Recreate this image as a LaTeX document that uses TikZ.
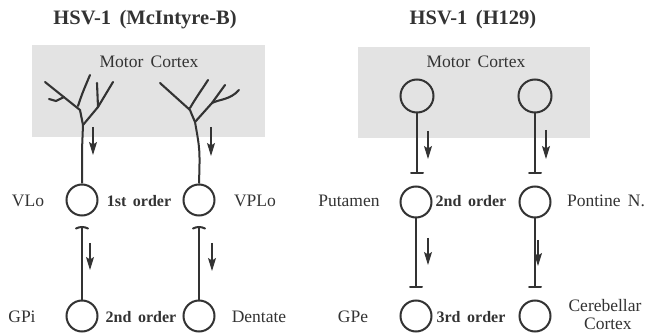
\documentclass[tikz,border=0pt]{standalone}
\usepackage{fontspec}
\setmainfont{Liberation Serif}
\usetikzlibrary{arrows.meta}
\definecolor{ink}{HTML}{333333}
\definecolor{cortexfill}{HTML}{E3E3E3}
\tikzset{
  cell/.style={circle, draw=ink, line width=2pt, minimum size=31pt, inner sep=0pt},
  ctxcell/.style={cell, minimum size=33pt},
  axon/.style={draw=ink, line width=2pt},
  dend/.style={draw=ink, line width=2.1pt, line cap=round, line join=round},
  bar/.style={draw=ink, line width=2pt, line cap=round},
  flow/.style={draw=ink, line width=1.1pt, -{Stealth[length=13pt,width=8pt,inset=2.5pt]}},
  cortex/.style={fill=cortexfill, draw=none},
  title/.style={font=\fontsize{20.5}{24}\selectfont\bfseries, text=ink},
  region/.style={font=\fontsize{17.5}{20}\selectfont, text=ink, align=center},
  order/.style={font=\fontsize{16}{19}\selectfont\bfseries, text=ink},
}
\begin{document}
\begin{tikzpicture}[x=1pt,y=-1pt]
\useasboundingbox (0,0) rectangle (646,334);
% cortex boxes
\path[cortex] (32,45) rectangle (265,137);
\path[cortex] (358,47) rectangle (590,138);
% titles
\node[title] (t1) at (145,20) {HSV-1\, (McIntyre-B)};
\node[title] (t2) at (473,20) {HSV-1\, (H129)};
\node[region] (mc1) at (149,62) {Motor\, Cortex};
\node[region] (mc2) at (476,62) {Motor\, Cortex};

% ---------------- left panel ----------------
\node[cell] (vlo) at (82,200) {};
\node[cell] (vplo) at (199,200) {};
\node[cell] (gpi) at (82,316) {};
\node[cell] (dent) at (199,316) {};

% dendritic tree 1
\coordinate (tr1) at (83,125);
\draw[axon] (vlo.north) -- (82,150) -- (tr1);
\draw[dend] (tr1) -- (80,110) -- (45,82);
\draw[dend] (64,97) -- (56,101) -- (49,99);
\draw[dend] (78,106) .. controls (82,94) .. (90,75);
\draw[dend] (tr1) -- (98,107) -- (113,82);
\draw[dend] (98,107) -- (97,83);
% dendritic tree 2
\coordinate (tr2) at (195,122);
\draw[axon] (vplo.north) .. controls (200,150) .. (tr2);
\draw[dend] (tr2) .. controls (192,115) .. (190,110) -- (160,83);
\draw[dend] (190,108) .. controls (197,96) and (203,88) .. (208,80);
\draw[dend] (tr2) -- (212,103) -- (225,85);
\draw[dend] (212,103) .. controls (220,99) and (230,100) .. (239,90);

% bars and lower connectors
\coordinate (b1) at (82,227);
\coordinate (b2) at (199,227);
\draw[bar] (76,228.5) .. controls (80,226.5) and (84,226.5) .. (88,228.5);
\draw[bar] (193,228.5) .. controls (197,226.5) and (201,226.5) .. (205,228.5);
\draw[axon] (b1) -- (gpi.north);
\draw[axon] (b2) -- (dent.north);

% arrows
\draw[flow] (93,127) -- (93,155);
\draw[flow] (211,127) -- (211,156);
\draw[flow] (90,243) -- (90,270);
\draw[flow] (212,243) -- (212,271);

% labels
\node[region] (l1) at (28,201) {VLo};
\node[order] (o1) at (139,201) {1st\, order};
\node[region] (l2) at (255,201) {VPLo};
\node[region] (l3) at (22,317) {GPi};
\node[order] (o2) at (141,317) {2nd\, order};
\node[region] (l4) at (259,317) {Dentate};

% ---------------- right panel ----------------
\node[ctxcell] (c1) at (417,96) {};
\node[ctxcell] (c2) at (535,96) {};
\node[cell] (put) at (416,202) {};
\node[cell] (pon) at (535,202) {};
\node[cell] (gpe) at (416,316) {};
\node[cell] (cer) at (535,316) {};

\coordinate (r1) at (417,173);
\coordinate (r2) at (535,173);
\coordinate (r3) at (416,287);
\coordinate (r4) at (535,287);
\draw[axon] (c1.south) -- (r1);
\draw[axon] (c2.south) -- (r2);
\draw[axon] (put.south) -- (r3);
\draw[axon] (pon.south) -- (r4);
\draw[bar] (411,173) -- (423,173);
\draw[bar] (529,173) -- (541,173);
\draw[bar] (410,287) -- (422,287);
\draw[bar] (529,287) -- (541,287);

\draw[flow] (428,131) -- (428,159);
\draw[flow] (546,130) -- (546,159);
\draw[flow] (428,238) -- (428,265);
\draw[flow] (538,240) -- (538,266);

\node[region] (l5) at (349,201) {Putamen};
\node[order] (o3) at (471,201) {2nd\, order};
\node[region] (l6) at (606,201) {Pontine\, N.};
\node[region] (l7) at (353,317) {GPe};
\node[order] (o4) at (471,317) {3rd\, order};
\node[region, inner sep=0pt] (l8) at (605,315) {Cerebellar\\[-2pt]\,\,Cortex};
\end{tikzpicture}
\end{document}
